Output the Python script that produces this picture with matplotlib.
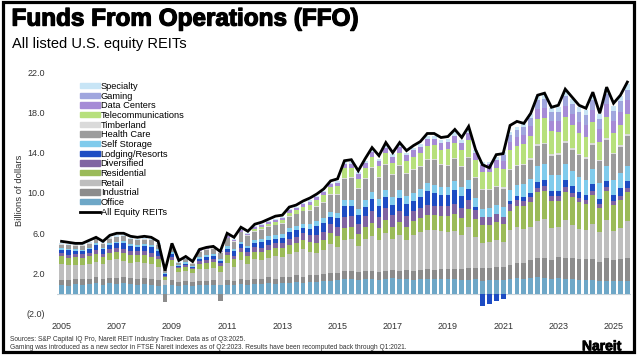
import numpy as np
import matplotlib
matplotlib.use("Agg")
import matplotlib.pyplot as plt
import matplotlib.patheffects as pe
from matplotlib.patches import Rectangle, Patch
from matplotlib.lines import Line2D

plt.rcParams['font.family'] = ['Liberation Sans', 'DejaVu Sans']

# quarterly FFO by sector, billions of dollars, Q1 2005 .. Q3 2025
office = [0.9, 0.8, 1.0, 0.9,  1.0, 1.1, 0.9, 1.1,  1.0, 1.1, 1.0, 0.9,  1.0, 0.9, 0.8, 0.9,
          0.9, 0.8, 0.85, 0.8,  0.85, 0.9, 0.9, 0.85,  0.9, 0.9, 1.0, 0.9,  1.0, 1.0, 1.1, 1.0,
          1.1, 1.1, 1.2, 1.1,  1.2, 1.2, 1.3, 1.3,  1.4, 1.5, 1.5, 1.4,  1.5, 1.5, 1.4, 1.5,
          1.6, 1.5, 1.5, 1.4,  1.5, 1.5, 1.5, 1.5,  1.5, 1.45, 1.4, 1.4,  1.45, 1.3, 1.35, 1.4,
          1.4, 1.5, 1.6, 1.5,  1.6, 1.7, 1.6, 1.5,  1.6, 1.5, 1.45, 1.4,  1.4, 1.35, 1.3, 1.3,
          1.3, 1.3, 1.3]
industrial = [0.5, 0.55, 0.5, 0.55,  0.5, 0.6, 0.55, 0.5,  0.6, 0.55, 0.6, 0.55,  0.6, 0.55, 0.6, -0.8,
              0.5, 0.4, 0.4, 0.35,  0.4, 0.4, 0.45, -0.7,  0.45, 0.4, 0.5, 0.5,  0.5, 0.5, 0.55, 0.5,
              0.6, 0.6, 0.65, 0.6,  0.7, 0.65, 0.7, 0.75,  0.7, 0.75, 0.8, 0.75,  0.75, 0.8, 0.75, 0.8,
              0.8, 0.8, 0.85, 0.9,  0.9, 0.95, 0.9, 0.95,  1.0, 1.05, 1.1, 1.2,  1.15, 1.3, 1.25, 1.25,
              1.3, 1.4, 1.5, 1.6,  1.7, 1.85, 1.9, 1.8,  2.0, 2.0, 2.1, 2.0,  2.0, 2.1, 1.9, 2.2,
              2.0, 2.1, 2.2]
retail = [1.6, 1.5, 1.4, 1.4,  1.5, 1.5, 1.5, 1.7,  1.8, 1.6, 1.5, 1.7,  1.5, 1.5, 1.3, 0.5,
          1.35, 0.95, 1.0, 0.9,  1.2, 1.2, 1.2, 1.3,  1.75, 1.4, 1.85, 1.6,  1.9, 1.85, 1.9, 2.2,
          1.95, 2.25, 2.3, 2.7,  2.2, 2.2, 2.3, 2.9,  2.5, 3.1, 3.1, 2.6,  3.15, 3.45, 3.15, 3.75,
          3.0, 3.5, 2.95, 3.55,  3.7, 3.9, 3.9, 3.75,  3.6, 3.7, 3.3, 4.0,  3.0, 2.4, 2.5, 2.7,
          2.4, 3.4, 3.5, 3.3,  3.3, 3.7, 3.9, 3.2,  3.0, 3.8, 3.25, 3.0,  2.9, 3.5, 2.9, 3.85,
          2.9, 3.1, 3.7]
residential = [0.7, 0.65, 0.7, 0.7,  0.7, 0.7, 0.65, 0.75,  0.7, 0.75, 0.7, 0.7,  0.75, 0.7, 0.7, 0.3,
               0.6, 0.4, 0.45, 0.4,  0.55, 0.55, 0.6, 0.6,  0.7, 0.7, 0.75, 0.75,  0.75, 0.75, 0.8, 0.8,
               0.85, 0.9, 0.9, 0.95,  1.0, 1.0, 1.05, 1.1,  1.15, 1.2, 1.2, 1.2,  1.2, 1.25, 1.2, 1.3,
               1.25, 1.3, 1.3, 1.35,  1.4, 1.45, 1.5, 1.5,  1.6, 1.7, 1.75, 1.8,  1.85, 1.8, 1.75, 1.75,
               1.8, 1.95, 2.1, 2.3,  2.5, 2.8, 2.8, 2.7,  2.6, 2.8, 2.8, 2.7,  2.6, 2.8, 2.4, 2.85,
               2.6, 2.8, 2.9]
diversified = [0.35, 0.35, 0.3, 0.35,  0.35, 0.4, 0.35, 0.4,  0.45, 0.4, 0.4, 0.35,  0.4, 0.4, 0.35, 0.1,
               0.3, 0.1, 0.15, 0.1,  0.25, 0.25, 0.3, 0.3,  0.35, 0.35, 0.4, 0.4,  0.45, 0.45, 0.5, 0.5,
               0.55, 0.6, 0.6, 0.65,  0.7, 0.75, 0.8, 0.85,  0.9, 1.1, 1.1, 1.0,  1.1, 1.2, 1.1, 1.2,
               1.2, 1.1, 1.1, 1.0,  1.0, 1.0, 0.95, 1.0,  1.0, 1.0, 0.95, 0.95,  0.9, 0.8, 0.8, 0.8,
               0.75, 0.7, 0.6, 0.5,  0.5, 0.4, 0.45, 0.45,  0.45, 0.45, 0.4, 0.4,  0.4, 0.4, 0.4, 0.4,
               0.4, 0.4, 0.4]
lodging = [0.3, 0.45, 0.35, 0.3,  0.35, 0.55, 0.45, 0.4,  0.45, 0.65, 0.55, 0.45,  0.45, 0.6, 0.45, 0.15,
           0.3, 0.1, 0.15, 0.1,  0.2, 0.3, 0.25, 0.2,  0.3, 0.45, 0.4, 0.35,  0.4, 0.55, 0.5, 0.45,
           0.5, 0.7, 0.65, 0.55,  0.65, 0.9, 0.85, 0.75,  0.85, 1.1, 1.05, 0.9,  0.95, 1.25, 1.1, 1.0,
           1.0, 1.3, 1.2, 1.0,  1.1, 1.35, 1.2, 1.05,  1.1, 1.4, 1.2, 1.05,  0.3, -1.2, -1.0, -0.7,
           -0.5, 0.25, 0.35, 0.4,  0.4, 0.65, 0.6, 0.55,  0.55, 0.75, 0.65, 0.55,  0.5, 0.75, 0.55, 0.6,
           0.55, 0.75, 0.65]
self_storage = [0.15, 0.15, 0.15, 0.15,  0.15, 0.17, 0.17, 0.17,  0.18, 0.2, 0.2, 0.2,  0.2, 0.2, 0.2, 0.15,
                0.2, 0.1, 0.15, 0.15,  0.2, 0.2, 0.22, 0.22,  0.25, 0.27, 0.28, 0.28,  0.3, 0.33, 0.35, 0.35,
                0.38, 0.4, 0.42, 0.42,  0.45, 0.48, 0.5, 0.5,  0.55, 0.58, 0.6, 0.6,  0.65, 0.68, 0.7, 0.7,
                0.72, 0.75, 0.75, 0.75,  0.78, 0.8, 0.82, 0.82,  0.82, 0.85, 0.87, 0.87,  0.85, 0.85, 0.85, 0.9,
                0.95, 1.05, 1.15, 1.25,  1.4, 1.6, 1.6, 1.6,  1.6, 1.6, 1.55, 1.5,  1.5, 1.5, 1.5, 1.5,
                1.5, 1.55, 1.55]
health_care = [0.35, 0.35, 0.35, 0.4,  0.4, 0.4, 0.4, 0.45,  0.45, 0.45, 0.45, 0.45,  0.45, 0.45, 0.45, 0.3,
               0.5, 0.2, 0.25, 0.2,  0.5, 0.55, 0.55, 0.6,  0.8, 0.7, 0.9, 0.95,  0.85, 0.9, 0.95, 1.0,
               1.0, 1.1, 1.15, 1.2,  1.3, 1.4, 1.5, 1.6,  1.7, 2.1, 2.1, 1.9,  2.1, 2.3, 2.1, 2.5,
               2.2, 2.4, 2.2, 2.3,  2.2, 2.3, 2.5, 2.2,  2.1, 2.2, 2.0, 2.2,  2.0, 1.85, 1.75, 1.8,
               1.8, 2.0, 1.85, 1.9,  1.9, 2.0, 2.0, 1.9,  2.0, 2.1, 2.1, 2.2,  2.1, 2.4, 2.2, 2.6,
               2.6, 2.6, 3.0]
timberland = [0.05, 0.05, 0.05, 0.05,  0.05, 0.05, 0.05, 0.05,  0.05, 0.05, 0.05, 0.05,  0.05, 0.05, 0.05, 0.05,
              0.05, 0.05, 0.05, 0.05,  0.05, 0.05, 0.05, 0.05,  0.05, 0.05, 0.05, 0.05,  0.05, 0.05, 0.05, 0.05,
              0.05, 0.05, 0.05, 0.05,  0.1, 0.1, 0.1, 0.1,  0.1, 0.1, 0.1, 0.1,  0.1, 0.1, 0.1, 0.1,
              0.1, 0.1, 0.1, 0.1,  0.1, 0.1, 0.1, 0.1,  0.1, 0.1, 0.1, 0.1,  0.1, 0.1, 0.1, 0.1,
              0.15, 0.15, 0.15, 0.15,  0.15, 0.15, 0.15, 0.15,  0.15, 0.15, 0.15, 0.15,  0.15, 0.15, 0.15, 0.15,
              0.15, 0.15, 0.15]
telecom = [0, 0, 0, 0,  0, 0, 0, 0,  0, 0, 0, 0,  0, 0, 0, 0,
           0, 0, 0, 0,  0, 0, 0, 0,  0, 0, 0, 0,  0.2, 0.25, 0.25, 0.3,
           0.3, 0.35, 0.35, 0.4,  0.55, 0.6, 0.65, 0.7,  0.8, 0.9, 0.95, 0.95,  1.0, 1.0, 1.05, 1.1,
           1.15, 1.2, 1.2, 1.25,  1.3, 1.35, 1.35, 1.4,  1.5, 1.55, 1.6, 1.65,  1.65, 1.7, 1.75, 1.8,
           1.8, 1.85, 1.9, 1.95,  2.2, 2.5, 2.4, 2.3,  2.1, 2.4, 2.3, 2.0,  2.0, 2.1, 1.8, 2.1,
           1.9, 2.0, 2.0]
data_centers = [0, 0, 0, 0,  0, 0, 0, 0,  0, 0, 0, 0,  0, 0, 0, 0,
                0, 0, 0, 0,  0.1, 0.1, 0.1, 0.1,  0.15, 0.15, 0.15, 0.15,  0.2, 0.2, 0.2, 0.2,
                0.25, 0.25, 0.25, 0.3,  0.3, 0.3, 0.3, 0.3,  0.35, 0.4, 0.4, 0.45,  0.45, 0.5, 0.5, 0.55,
                0.55, 0.6, 0.6, 0.65,  0.6, 0.65, 0.65, 0.7,  0.7, 0.7, 0.7, 0.75,  0.75, 0.7, 0.75, 0.8,
                0.8, 0.85, 0.85, 0.9,  0.95, 1.0, 1.0, 1.0,  1.05, 1.1, 1.1, 1.15,  1.15, 1.2, 1.2, 1.25,
                1.25, 1.3, 1.35]
gaming = [0] * 64 + [0.6, 0.65, 0.7, 0.75,  0.8, 0.85, 0.9, 0.9,  0.95, 1.0, 1.0, 1.0,  1.0, 1.0, 1.0, 1.0,
                     1.0, 1.05, 1.05]
specialty = [0.1, 0.1, 0.1, 0.1,  0.1, 0.1, 0.1, 0.1,  0.1, 0.1, 0.1, 0.1,  0.1, 0.1, 0.1, 0.05,
             0.1, 0.05, 0.05, 0.05,  0.1, 0.1, 0.1, 0.1,  0.1, 0.1, 0.1, 0.1,  0.1, 0.1, 0.1, 0.1,
             0.1, 0.1, 0.1, 0.1,  0.15, 0.15, 0.15, 0.15,  0.2, 0.2, 0.2, 0.2,  0.25, 0.25, 0.25, 0.25,
             0.25, 0.25, 0.25, 0.25,  0.3, 0.3, 0.3, 0.3,  0.3, 0.3, 0.3, 0.3,  0.25, 0.3, 0.25, 0.3,
             0.3, 0.3, 0.3, 0.3,  0.4, 0.4, 0.4, 0.4,  0.45, 0.45, 0.45, 0.45,  0.5, 0.5, 0.5, 0.5,
             0.5, 0.55, 0.6]
all_equity = [5.2, 5.1, 5.0, 5.0,  5.3, 5.6, 5.2, 5.8,  6.0, 6.0, 5.7, 5.6,  5.7, 5.6, 5.2, 2.3,
              5.0, 3.3, 3.7, 3.2,  4.4, 4.6, 4.7, 4.2,  6.0, 5.6, 6.6, 6.2,  6.9, 7.1, 7.4, 7.7,
              7.8, 8.6, 8.8, 9.2,  9.5, 9.9, 10.4, 11.2,  11.4, 13.2, 13.3, 12.2,  13.4, 14.5, 13.7, 15.0,
              14.0, 15.0, 14.2, 14.7,  15.1, 15.9, 15.9, 15.5,  15.6, 16.3, 15.5, 16.6,  14.3, 12.8, 12.5, 13.8,
              13.9, 16.7, 17.1, 16.9,  17.9, 19.7, 19.9, 18.5,  18.7, 20.3, 19.5, 18.7,  18.4, 20.0, 17.9, 20.5,
              18.9, 19.7, 21.0]

sectors = ["Office", "Industrial", "Retail", "Residential", "Diversified", "Lodging/Resorts",
           "Self Storage", "Health Care", "Timberland", "Telecommunications", "Data Centers",
           "Gaming", "Specialty"]
series = [office, industrial, retail, residential, diversified, lodging, self_storage,
          health_care, timberland, telecom, data_centers, gaming, specialty]
colors = ["#6EA7C7", "#8C8C8C", "#BEBEBE", "#9BBB59", "#8064A2", "#1D4CC3",
          "#80CBEC", "#9C9C9C", "#DADADA", "#B7E07C", "#A68BD6", "#A0A6DE", "#C8E5F6"]
year_ticks = list(range(2005, 2026, 2))

x = np.arange(len(all_equity))

fig = plt.figure(figsize=(6.4, 3.6), dpi=100)
ax = fig.add_axes([0.0897, 0.128, 0.897, 0.672])

pos = np.zeros(len(x))
neg = np.zeros(len(x))
for vals, c in zip(series, colors):
    v = np.array(vals, dtype=float)
    bottom = np.where(v >= 0, pos, neg)
    ax.bar(x, v, 0.7, bottom=bottom, color=c, linewidth=0, zorder=2)
    pos += np.clip(v, 0, None)
    neg += np.clip(v, None, 0)

ax.plot(x, all_equity, color="black", lw=2, zorder=3, solid_joinstyle="miter")
ax.axhline(0, color="#C8D3DA", lw=0.8, zorder=1)

ax.set_xlim(-0.6, 82.6)
ax.set_ylim(-2, 22)
ax.set_yticks([-2, 2, 6, 10, 14, 18, 22])
ax.set_yticklabels(["(2.0)", "2.0", "6.0", "10.0", "14.0", "18.0", "22.0"])
ax.set_xticks([(y - 2005) * 4 for y in year_ticks])
ax.set_xticklabels([str(y) for y in year_ticks])
ax.tick_params(length=0, labelsize=6.5, colors="#333333")
ax.tick_params(axis="x", pad=6)
ax.tick_params(axis="y", pad=9)
for s in ax.spines.values():
    s.set_visible(False)

handles = [Patch(color=c, label=n) for n, c in zip(sectors, colors)][::-1]
handles.append(Line2D([], [], color="black", lw=2, label="All Equity REITs"))
fig.legend(handles=handles, loc="upper left", bbox_to_anchor=(0.118, 0.785), frameon=False,
           fontsize=6.7, handlelength=2.1, handleheight=0.5, labelspacing=0.07,
           handletextpad=0.1, borderpad=0)

fig.text(0.018, 0.947, "Funds From Operations (FFO)", fontsize=17.5, fontweight="bold", va="center",
         path_effects=[pe.withStroke(linewidth=0.9, foreground="black")])
fig.text(0.018, 0.877, "All listed U.S. equity REITs", fontsize=10.5, va="center")
fig.text(0.03, 0.47, "Billions of dollars", rotation=90, fontsize=6.8, va="center", ha="center",
         color="#333333")
fig.text(0.016, 0.057, "Sources: S&P Capital IQ Pro, Nareit REIT Industry Tracker. Data as of Q3:2025.",
         fontsize=4.75, va="center", color="#333333")
fig.text(0.016, 0.036, "Gaming was introduced as a new sector in FTSE Nareit indexes as of Q2:2023. "
         "Results have been recomputed back through Q1:2021.", fontsize=4.75, va="center", color="#333333")
fig.text(0.94, 0.038, "Nareit", fontsize=10, fontweight="bold", ha="center", va="center",
         path_effects=[pe.withStroke(linewidth=0.6, foreground="black")])

fig.add_artist(Rectangle((0.004, 0.022), 0.987, 0.972, transform=fig.transFigure,
                         fill=False, edgecolor="black", lw=2.3))

fig.savefig("out.png", dpi=100)
